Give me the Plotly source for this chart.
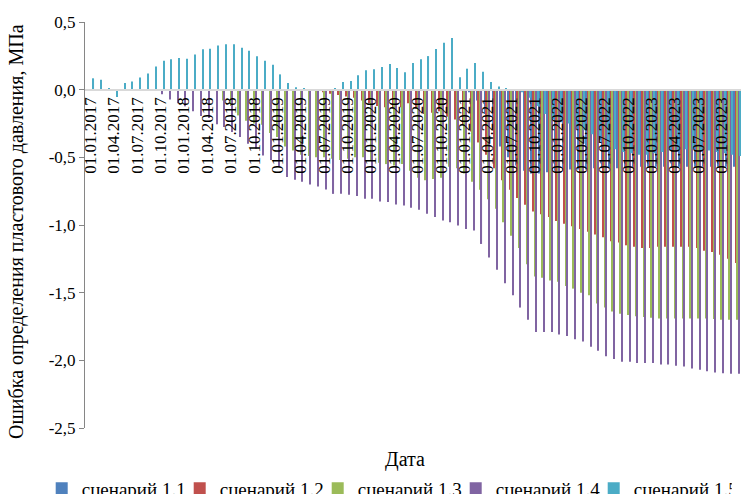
import plotly.graph_objects as go

# Categories: monthly dates 01.01.2017 .. 01.12.2023
years = [2017, 2018, 2019, 2020, 2021, 2022, 2023]
months = ["01", "02", "03", "04", "05", "06", "07", "08", "09", "10", "11", "12"]
dates = ["01." + m + "." + str(y) for y in years for m in months]
tick_dates = dates[::3]

series_names = ["сценарий 1.1", "сценарий 1.2", "сценарий 1.3", "сценарий 1.4", "сценарий 1.5"]
series_colors = ["#4F81BD", "#C0504D", "#9BBB59", "#8064A2", "#4BACC6"]

s11 = [0.0, 0.0, 0.0, 0.0, 0.0, 0.0, 0.0, 0.0, 0.0, 0.0,
       0.0, 0.0, 0.0, 0.0, 0.0, 0.0, 0.0, 0.0, 0.0, 0.0,
       0.0, 0.0, 0.0, 0.0, 0.0, 0.0, 0.0, 0.0, 0.0, 0.0,
       0.0, 0.0, 0.0, 0.0, 0.0, 0.0, 0.0, 0.0, 0.0, 0.0,
       0.0, 0.0, 0.0, 0.0, 0.0, 0.0, 0.0, 0.0, 0.0, -0.02,
       -0.08, -0.18, -0.30, -0.42, -0.50, -0.56, -0.60, -0.62, -0.62, -0.61,
       -0.60, -0.60, -0.59, -0.59, -0.59, -0.58, -0.58, -0.58, -0.58, -0.58,
       -0.58, -0.57, -0.57, -0.57, -0.57, -0.57, -0.57, -0.57, -0.57, -0.57,
       -0.57, -0.57, -0.57, -0.57]

s12 = [0.0, 0.0, 0.0, 0.0, 0.0, 0.0, 0.0, 0.0, 0.0, 0.0,
       0.0, 0.0, 0.0, 0.0, 0.0, 0.0, 0.0, 0.0, 0.0, 0.0,
       0.0, 0.0, 0.0, 0.0, 0.0, 0.0, 0.0, 0.0, 0.0, -0.01,
       -0.02, -0.03, -0.04, -0.05, -0.06, -0.08, -0.10, -0.12, -0.13, -0.14,
       -0.13, -0.10, -0.14, -0.18, -0.17, -0.16, -0.20, -0.22, -0.26, -0.31,
       -0.39, -0.48, -0.58, -0.67, -0.74, -0.80, -0.85, -0.90, -0.92, -0.94,
       -0.97, -0.99, -1.01, -1.03, -1.05, -1.07, -1.09, -1.12, -1.13, -1.15,
       -1.16, -1.17, -1.17, -1.16, -1.16, -1.16, -1.16, -1.16, -1.17, -1.19,
       -1.20, -1.22, -1.25, -1.28]

s13 = [0.0, 0.0, 0.0, 0.0, 0.0, 0.0, 0.0, 0.0, 0.0, 0.0,
       0.0, 0.0, 0.0, 0.0, 0.0, 0.0, 0.0, -0.08, -0.12, -0.19,
       -0.23, -0.25, -0.26, -0.32, -0.35, -0.42, -0.45, -0.48, -0.49, -0.50,
       -0.50, -0.51, -0.52, -0.51, -0.50, -0.50, -0.52, -0.54, -0.55, -0.56,
       -0.55, -0.60, -0.65, -0.67, -0.66, -0.65, -0.57, -0.58, -0.62, -0.68,
       -0.74, -0.81, -0.88, -0.98, -1.08, -1.17, -1.29, -1.38, -1.39, -1.41,
       -1.42, -1.45, -1.47, -1.50, -1.52, -1.58, -1.61, -1.64, -1.655, -1.665,
       -1.675, -1.68, -1.685, -1.69, -1.69, -1.69, -1.69, -1.69, -1.69, -1.69,
       -1.695, -1.70, -1.70, -1.70]

s14 = [0.0, 0.0, 0.0, 0.0, 0.0, 0.0, 0.0, 0.0, -0.01, -0.033,
       -0.072, -0.10, -0.123, -0.16, -0.195, -0.21, -0.256, -0.276, -0.313, -0.35,
       -0.40, -0.436, -0.486, -0.52, -0.57, -0.646, -0.665, -0.68, -0.70, -0.715,
       -0.737, -0.77, -0.77, -0.776, -0.786, -0.806, -0.806, -0.826, -0.83, -0.848,
       -0.855, -0.872, -0.887, -0.916, -0.94, -0.966, -0.98, -1.003, -1.03, -1.04,
       -1.14, -1.24, -1.33, -1.43, -1.52, -1.61, -1.70, -1.79, -1.79, -1.79,
       -1.81, -1.82, -1.845, -1.86, -1.90, -1.93, -1.97, -1.99, -2.01, -2.01,
       -2.02, -2.02, -2.02, -2.03, -2.03, -2.04, -2.045, -2.06, -2.07, -2.08,
       -2.09, -2.095, -2.10, -2.10]

s15 = [0.084, 0.074, 0.007, -0.055, 0.049, 0.061, 0.089, 0.12, 0.172, 0.214,
       0.224, 0.234, 0.229, 0.259, 0.298, 0.303, 0.327, 0.335, 0.335, 0.31,
       0.288, 0.246, 0.214, 0.185, 0.113, 0.049, 0.017, 0.007, 0.0, -0.005,
       -0.005, 0.01, 0.056, 0.064, 0.106, 0.143, 0.15, 0.167, 0.19, 0.16,
       0.128, 0.197, 0.224, 0.248, 0.30, 0.347, 0.381, 0.091, 0.155, 0.197,
       0.133, 0.056, 0.024, 0.007, 0.003, -0.02, -0.06, -0.12, -0.18, -0.22,
       -0.24, -0.25, -0.27, -0.30, -0.33, -0.37, -0.41, -0.44, -0.46, -0.47,
       -0.48, -0.48, -0.47, -0.46, -0.45, -0.45, -0.44, -0.44, -0.45, -0.45,
       -0.46, -0.47, -0.48, -0.49]

y_tick_vals = [0.5, 0.0, -0.5, -1.0, -1.5, -2.0, -2.5]
y_tick_text = ["0,5", "0,0", "-0,5", "-1,0", "-1,5", "-2,0", "-2,5"]

y_title = "Ошибка определения пластового давления, МПа"
x_title = "Дата"

FONT = "Times New Roman, Liberation Serif, serif"

fig = go.Figure()
for name, color, vals in zip(series_names, series_colors, [s11, s12, s13, s14, s15]):
    fig.add_trace(go.Bar(x=dates, y=vals, name=name, marker=dict(color=color, line=dict(width=0))))

fig.update_layout(
    width=741, height=494,
    margin=dict(l=85, r=0, t=22, b=66, autoexpand=False),
    paper_bgcolor="white", plot_bgcolor="white",
    barmode="group", bargap=0.02, bargroupgap=0.3,
    font=dict(family=FONT, size=16, color="black"),
    showlegend=True,
    legend=dict(orientation="h", x=-0.066, xanchor="left", y=-0.102, yanchor="top",
                font=dict(family=FONT, size=19, color="black"),
                entrywidth=93, entrywidthmode="pixels", traceorder="normal"),
    xaxis=dict(type="category", range=[-0.7, 83.5], anchor="free", position=2.5 / 3,
               showline=True, linecolor="#D9D9D9", linewidth=1.5,
               ticks="", tickmode="array", tickvals=tick_dates, ticktext=tick_dates,
               tickangle=-90, tickfont=dict(family=FONT, size=17, color="black"),
               showgrid=False, zeroline=False, automargin=False),
    yaxis=dict(range=[-2.5, 0.5], tickmode="array", tickvals=y_tick_vals, ticktext=y_tick_text,
               ticks="outside", ticklen=5, tickcolor="#868686", showline=True,
               linecolor="#868686", linewidth=1, showgrid=False, zeroline=False,
               tickfont=dict(family=FONT, size=17, color="black"), automargin=False),
    annotations=[
        dict(text=y_title, xref="paper", yref="paper", x=(17 - 85) / 656, y=(428 - 232) / 406,
             xanchor="center", yanchor="middle", textangle=-90, showarrow=False,
             font=dict(family=FONT, size=20, color="black")),
        dict(text=x_title, xref="paper", yref="paper", x=(405 - 85) / 656, y=(428 - 460) / 406,
             xanchor="center", yanchor="middle", showarrow=False,
             font=dict(family=FONT, size=20, color="black")),
    ],
)

fig.write_html("out.html")
